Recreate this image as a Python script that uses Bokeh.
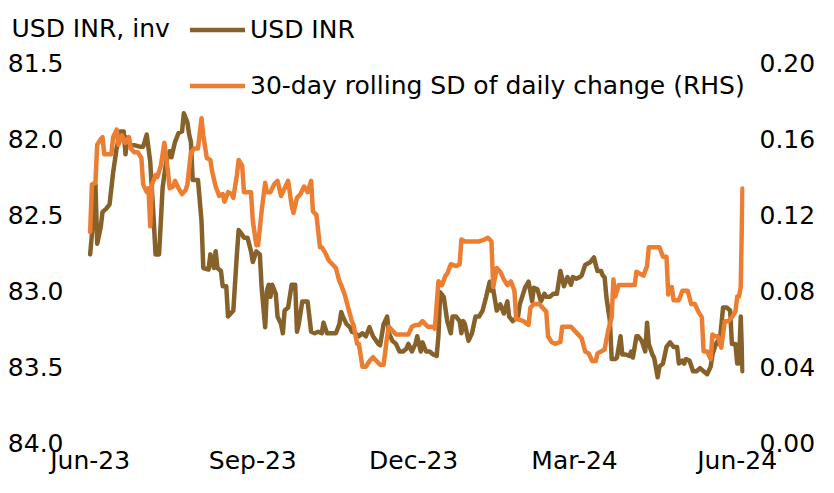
import pandas as pd
from bokeh.plotting import figure
from bokeh.models import (Range1d, LinearAxis, FixedTicker, DatetimeTickFormatter,
                          NumeralTickFormatter, Legend, LegendItem, Label, ColumnDataSource)
from bokeh.embed import file_html
from bokeh.resources import INLINE

# ---------------- data ----------------
usd_dates = [
    "2023-06-01", "2023-06-02", "2023-06-04", "2023-06-05", "2023-06-07", "2023-06-08", "2023-06-10",
    "2023-06-12", "2023-06-14", "2023-06-16", "2023-06-18", "2023-06-20", "2023-06-21", "2023-06-22",
    "2023-06-24", "2023-06-26", "2023-06-29", "2023-07-01", "2023-07-03", "2023-07-05", "2023-07-07",
    "2023-07-08", "2023-07-10", "2023-07-11", "2023-07-12", "2023-07-14", "2023-07-16", "2023-07-17",
    "2023-07-19", "2023-07-21", "2023-07-23", "2023-07-24", "2023-07-26", "2023-07-27", "2023-07-28",
    "2023-07-29", "2023-08-01", "2023-08-03", "2023-08-04", "2023-08-07", "2023-08-08", "2023-08-10",
    "2023-08-11", "2023-08-12", "2023-08-14", "2023-08-15", "2023-08-17", "2023-08-18", "2023-08-21",
    "2023-08-23", "2023-08-24", "2023-08-26", "2023-08-27", "2023-08-29", "2023-08-31", "2023-09-01",
    "2023-09-03", "2023-09-05", "2023-09-06", "2023-09-08", "2023-09-09", "2023-09-10", "2023-09-11",
    "2023-09-12", "2023-09-14", "2023-09-15", "2023-09-17", "2023-09-18", "2023-09-19", "2023-09-21",
    "2023-09-23", "2023-09-25", "2023-09-26", "2023-09-27", "2023-09-29", "2023-10-02", "2023-10-04",
    "2023-10-06", "2023-10-08", "2023-10-10", "2023-10-11", "2023-10-13", "2023-10-15", "2023-10-18",
    "2023-10-20", "2023-10-21", "2023-10-22", "2023-10-24", "2023-10-26", "2023-10-27", "2023-10-29",
    "2023-10-31", "2023-11-02", "2023-11-04", "2023-11-06", "2023-11-08", "2023-11-11", "2023-11-12",
    "2023-11-14", "2023-11-16", "2023-11-17", "2023-11-19", "2023-11-21", "2023-11-23", "2023-11-25",
    "2023-11-27", "2023-11-28", "2023-11-30", "2023-12-02", "2023-12-03", "2023-12-05", "2023-12-06",
    "2023-12-08", "2023-12-10", "2023-12-12", "2023-12-14", "2023-12-15", "2023-12-16", "2023-12-18",
    "2023-12-20", "2023-12-22", "2023-12-23", "2023-12-25", "2023-12-27", "2023-12-28", "2023-12-29",
    "2023-12-30", "2024-01-01", "2024-01-03", "2024-01-05", "2024-01-07", "2024-01-09", "2024-01-11",
    "2024-01-13", "2024-01-14", "2024-01-15", "2024-01-17", "2024-01-19", "2024-01-21", "2024-01-23",
    "2024-01-24", "2024-01-26", "2024-01-29", "2024-01-30", "2024-02-02", "2024-02-04", "2024-02-06",
    "2024-02-07", "2024-02-09", "2024-02-11", "2024-02-13", "2024-02-14", "2024-02-16", "2024-02-18",
    "2024-02-20", "2024-02-22", "2024-02-24", "2024-02-26", "2024-02-28", "2024-02-29", "2024-03-02",
    "2024-03-04", "2024-03-05", "2024-03-07", "2024-03-10", "2024-03-12", "2024-03-13", "2024-03-14",
    "2024-03-16", "2024-03-17", "2024-03-18", "2024-03-19", "2024-03-21", "2024-03-22", "2024-03-24",
    "2024-03-25", "2024-03-27", "2024-03-28", "2024-03-30", "2024-04-01", "2024-04-02", "2024-04-03",
    "2024-04-05", "2024-04-06", "2024-04-08", "2024-04-10", "2024-04-11", "2024-04-12", "2024-04-14",
    "2024-04-15", "2024-04-17", "2024-04-18", "2024-04-20", "2024-04-22", "2024-04-24", "2024-04-26",
    "2024-04-28", "2024-04-29", "2024-05-01", "2024-05-02", "2024-05-03", "2024-05-05", "2024-05-07",
    "2024-05-09", "2024-05-11", "2024-05-13", "2024-05-15", "2024-05-17", "2024-05-18", "2024-05-20",
    "2024-05-21", "2024-05-22", "2024-05-24", "2024-05-26", "2024-05-28", "2024-05-29", "2024-05-31",
    "2024-06-01", "2024-06-02", "2024-06-03", "2024-06-04",
]
usd_inr = [
    82.76, 82.63, 82.30, 82.69, 82.58, 82.48, 82.46,
    82.43, 82.22, 82.06, 81.95, 81.95, 82.10, 81.99,
    82.04, 82.04, 82.05, 82.05, 81.97, 82.15, 82.54,
    82.76, 82.76, 82.54, 82.32, 82.15, 82.08, 82.12,
    82.02, 81.96, 81.95, 81.83, 81.89, 81.97, 82.02,
    82.27, 82.27, 82.54, 82.85, 82.86, 82.76, 82.85,
    82.74, 82.85, 82.87, 82.97, 82.97, 83.17, 83.13,
    82.76, 82.60, 82.63, 82.65, 82.65, 82.74, 82.81,
    82.74, 82.76, 82.98, 83.24, 83.00, 82.96, 83.04,
    82.96, 83.02, 83.17, 83.22, 83.28, 83.13, 83.11,
    82.96, 82.96, 83.27, 83.22, 83.07, 83.07, 83.27,
    83.28, 83.27, 83.28, 83.21, 83.28, 83.28, 83.28,
    83.22, 83.14, 83.17, 83.22, 83.24, 83.27, 83.28,
    83.30, 83.28, 83.30, 83.24, 83.30, 83.35, 83.36,
    83.22, 83.17, 83.28, 83.33, 83.35, 83.40, 83.40,
    83.38, 83.35, 83.40, 83.35, 83.30, 83.40, 83.34,
    83.40, 83.40, 83.42, 83.43, 83.30, 83.01, 83.04,
    83.20, 83.28, 83.17, 83.17, 83.20, 83.28, 83.20,
    83.22, 83.33, 83.28, 83.17, 83.17, 83.13, 83.04,
    82.94, 83.00, 82.99, 83.13, 83.09, 83.15, 83.07,
    83.17, 83.20, 83.17, 83.09, 82.98, 82.94, 83.07,
    82.98, 82.99, 83.07, 83.02, 83.04, 83.04, 83.02,
    83.02, 82.87, 82.97, 82.91, 82.96, 82.91, 82.92,
    82.91, 82.90, 82.83, 82.81, 82.78, 82.83, 82.87,
    82.87, 82.90, 82.91, 83.04, 83.20, 83.45, 83.45,
    83.44, 83.30, 83.42, 83.42, 83.43, 83.40, 83.44,
    83.30, 83.30, 83.33, 83.40, 83.21, 83.35, 83.42,
    83.44, 83.57, 83.50, 83.48, 83.37, 83.34, 83.37,
    83.37, 83.48, 83.46, 83.48, 83.45, 83.46, 83.53,
    83.53, 83.51, 83.53, 83.55, 83.50, 83.42, 83.35,
    83.33, 83.35, 83.11, 83.11, 83.13, 83.35, 83.35,
    83.48, 83.48, 83.17, 83.53,
]

sd_dates = [
    "2023-06-01", "2023-06-02", "2023-06-04", "2023-06-05", "2023-06-07", "2023-06-08", "2023-06-09",
    "2023-06-11", "2023-06-13", "2023-06-14", "2023-06-16", "2023-06-17", "2023-06-19", "2023-06-21",
    "2023-06-23", "2023-06-24", "2023-06-26", "2023-06-28", "2023-06-30", "2023-07-01", "2023-07-03",
    "2023-07-04", "2023-07-05", "2023-07-06", "2023-07-08", "2023-07-09", "2023-07-11", "2023-07-13",
    "2023-07-15", "2023-07-16", "2023-07-18", "2023-07-19", "2023-07-21", "2023-07-23", "2023-07-25",
    "2023-07-26", "2023-07-28", "2023-07-30", "2023-08-01", "2023-08-03", "2023-08-04", "2023-08-06",
    "2023-08-08", "2023-08-09", "2023-08-11", "2023-08-13", "2023-08-15", "2023-08-16", "2023-08-18",
    "2023-08-20", "2023-08-21", "2023-08-23", "2023-08-24", "2023-08-26", "2023-08-27", "2023-08-29",
    "2023-08-31", "2023-09-01", "2023-09-03", "2023-09-04", "2023-09-06", "2023-09-08", "2023-09-09",
    "2023-09-11", "2023-09-13", "2023-09-15", "2023-09-17", "2023-09-19", "2023-09-21", "2023-09-23",
    "2023-09-24", "2023-09-26", "2023-09-28", "2023-09-30", "2023-10-02", "2023-10-04", "2023-10-05",
    "2023-10-07", "2023-10-09", "2023-10-10", "2023-10-12", "2023-10-14", "2023-10-16", "2023-10-18",
    "2023-10-20", "2023-10-21", "2023-10-23", "2023-10-25", "2023-10-27", "2023-10-28", "2023-10-30",
    "2023-10-31", "2023-11-02", "2023-11-04", "2023-11-06", "2023-11-08", "2023-11-10", "2023-11-12",
    "2023-11-14", "2023-11-16", "2023-11-17", "2023-11-19", "2023-11-21", "2023-11-25", "2023-11-28",
    "2023-11-30", "2023-12-02", "2023-12-04", "2023-12-06", "2023-12-09", "2023-12-12", "2023-12-13",
    "2023-12-15", "2023-12-17", "2023-12-19", "2023-12-20", "2023-12-22", "2023-12-25", "2023-12-27",
    "2023-12-28", "2023-12-30", "2024-01-01", "2024-01-04", "2024-01-07", "2024-01-10", "2024-01-12",
    "2024-01-14", "2024-01-15", "2024-01-17", "2024-01-19", "2024-01-21", "2024-01-23", "2024-01-25",
    "2024-01-27", "2024-01-28", "2024-01-29", "2024-02-01", "2024-02-04", "2024-02-05", "2024-02-07",
    "2024-02-10", "2024-02-12", "2024-02-14", "2024-02-15", "2024-02-17", "2024-02-19", "2024-02-22",
    "2024-02-23", "2024-02-26", "2024-02-28", "2024-03-01", "2024-03-03", "2024-03-05", "2024-03-07",
    "2024-03-09", "2024-03-11", "2024-03-13", "2024-03-14", "2024-03-16", "2024-03-18", "2024-03-20",
    "2024-03-22", "2024-03-23", "2024-03-24", "2024-03-26", "2024-03-28", "2024-03-31", "2024-04-02",
    "2024-04-04", "2024-04-05", "2024-04-07", "2024-04-09", "2024-04-11", "2024-04-12", "2024-04-14",
    "2024-04-16", "2024-04-18", "2024-04-20", "2024-04-22", "2024-04-23", "2024-04-25", "2024-04-26",
    "2024-04-29", "2024-05-01", "2024-05-02", "2024-05-04", "2024-05-06", "2024-05-08", "2024-05-10",
    "2024-05-12", "2024-05-13", "2024-05-15", "2024-05-17", "2024-05-18", "2024-05-19", "2024-05-21",
    "2024-05-23", "2024-05-25", "2024-05-27", "2024-05-29", "2024-05-31", "2024-06-01", "2024-06-02",
    "2024-06-03", "2024-06-04",
]
sd_change = [
    0.111, 0.136, 0.137, 0.157, 0.160, 0.161, 0.152,
    0.152, 0.152, 0.161, 0.165, 0.157, 0.162, 0.158,
    0.161, 0.155, 0.153, 0.153, 0.150, 0.136, 0.132,
    0.134, 0.114, 0.136, 0.141, 0.140, 0.146, 0.158,
    0.143, 0.134, 0.135, 0.138, 0.134, 0.131, 0.133,
    0.136, 0.153, 0.155, 0.155, 0.171, 0.162, 0.150,
    0.149, 0.143, 0.135, 0.130, 0.131, 0.127, 0.132,
    0.131, 0.129, 0.141, 0.149, 0.146, 0.132, 0.132,
    0.132, 0.117, 0.104, 0.104, 0.122, 0.137, 0.132,
    0.132, 0.136, 0.138, 0.130, 0.134, 0.138, 0.125,
    0.121, 0.129, 0.131, 0.135, 0.132, 0.138, 0.122,
    0.120, 0.103, 0.103, 0.100, 0.096, 0.094, 0.092,
    0.085, 0.083, 0.078, 0.071, 0.064, 0.062, 0.052,
    0.052, 0.040, 0.040, 0.043, 0.045, 0.043, 0.041,
    0.041, 0.056, 0.061, 0.059, 0.057, 0.057, 0.057,
    0.061, 0.062, 0.062, 0.064, 0.061, 0.061, 0.060,
    0.085, 0.083, 0.088, 0.089, 0.094, 0.093, 0.094,
    0.107, 0.106, 0.106, 0.106, 0.106, 0.107, 0.108,
    0.106, 0.082, 0.092, 0.090, 0.086, 0.083, 0.085,
    0.080, 0.065, 0.065, 0.064, 0.062, 0.071, 0.073,
    0.073, 0.071, 0.069, 0.056, 0.053, 0.052, 0.053,
    0.061, 0.061, 0.061, 0.059, 0.057, 0.055, 0.048,
    0.047, 0.043, 0.043, 0.047, 0.048, 0.049, 0.059,
    0.066, 0.086, 0.077, 0.083, 0.083, 0.083, 0.083,
    0.083, 0.090, 0.089, 0.088, 0.093, 0.103, 0.103,
    0.103, 0.103, 0.098, 0.098, 0.078, 0.082, 0.075,
    0.075, 0.080, 0.080, 0.080, 0.073, 0.073, 0.069,
    0.066, 0.048, 0.048, 0.044, 0.057, 0.056, 0.056,
    0.050, 0.064, 0.064, 0.066, 0.069, 0.077, 0.077,
    0.082, 0.134,
]

x_tick_dates = ["2023-06-01", "2023-09-01", "2023-12-01", "2024-03-01", "2024-06-01"]
left_ticks = [81.5, 82.0, 82.5, 83.0, 83.5, 84.0]
right_ticks = [0.00, 0.04, 0.08, 0.12, 0.16, 0.20]

series_names = ["USD INR", "30-day rolling SD of daily change (RHS)"]
axis_title = "USD INR, inv"

# ---------------- layout / styling ----------------
BROWN = "#86622A"
ORANGE = "#ED7D31"
FONT = "DejaVu Sans"
FS = "25px"
LW = 4.5

W, H = 818, 477
FRAME_R = 747          # frame right edge (px from figure left)
FRAME_B = 444          # frame bottom edge (px from figure top)
DATA_L = 90            # x pixel of first date
DATA_R = 745           # x pixel of last date
DATA_T = 63            # y pixel of the top tick (81.5 / 0.20)

src_usd = ColumnDataSource(dict(x=pd.to_datetime(usd_dates), y=usd_inr))
src_sd = ColumnDataSource(dict(x=pd.to_datetime(sd_dates), y=sd_change))

x0 = pd.Timestamp(usd_dates[0])
x1 = pd.Timestamp(usd_dates[-1])
per_px = (x1 - x0) / (DATA_R - DATA_L)
x_start = x0 - per_px * DATA_L
x_end = x1 + per_px * (FRAME_R - DATA_R)

l_lo, l_hi = left_ticks[-1], left_ticks[0]          # 84.0 bottom, 81.5 top
l_top = l_hi - (l_lo - l_hi) * DATA_T / (FRAME_B - DATA_T)
r_lo, r_hi = right_ticks[0], right_ticks[-1]
r_top = r_hi + (r_hi - r_lo) * DATA_T / (FRAME_B - DATA_T)

p = figure(width=W, height=H, x_axis_type="datetime", output_backend="svg",
           toolbar_location=None, x_range=Range1d(x_start, x_end),
           y_range=Range1d(l_lo, l_top),
           min_border_left=0, min_border_top=0,
           min_border_right=W - FRAME_R, min_border_bottom=H - FRAME_B)
p.outline_line_color = None
p.grid.visible = False
p.background_fill_color = "white"
p.border_fill_color = "white"

p.extra_y_ranges = {"sd": Range1d(r_lo, r_top)}

r_usd = p.line("x", "y", source=src_usd, line_color=BROWN, line_width=LW,
               line_join="round", line_cap="round")
r_sd = p.line("x", "y", source=src_sd, line_color=ORANGE, line_width=LW,
              line_join="round", line_cap="round", y_range_name="sd")

def style_axis(ax, standoff):
    ax.axis_line_color = None
    ax.major_tick_line_color = None
    ax.minor_tick_line_color = None
    ax.major_tick_out = 0
    ax.major_tick_in = 0
    ax.minor_tick_out = 0
    ax.minor_tick_in = 0
    ax.major_label_text_font = FONT
    ax.major_label_text_font_size = FS
    ax.major_label_text_color = "black"
    ax.major_label_standoff = standoff

# bottom axis
xa = p.xaxis[0]
xa.ticker = FixedTicker(ticks=[pd.Timestamp(d).value / 1e6 for d in x_tick_dates])
xa.formatter = DatetimeTickFormatter(days="%b-%y", months="%b-%y", years="%b-%y")
style_axis(xa, 3)

# left axis (inverted); labels drawn to the right of the figure's left edge
ya = p.yaxis[0]
ya.ticker = FixedTicker(ticks=left_ticks)
ya.formatter = NumeralTickFormatter(format="0.0")
style_axis(ya, -63)

# right axis
ra = LinearAxis(y_range_name="sd", ticker=FixedTicker(ticks=right_ticks),
                formatter=NumeralTickFormatter(format="0.00"))
style_axis(ra, 15)
p.add_layout(ra, "right")

# legend (location measured from the frame's bottom-left corner)
legend = Legend(items=[LegendItem(label=series_names[0], renderers=[r_usd]),
                       LegendItem(label=series_names[1], renderers=[r_sd])],
                location=(190, FRAME_B - 102), orientation="vertical",
                glyph_width=55, glyph_height=29, label_standoff=5,
                spacing=27, padding=0, margin=0,
                label_text_font=FONT, label_text_font_size=FS,
                label_text_color="black",
                background_fill_alpha=0, border_line_color=None)
p.add_layout(legend, "center")

# axis title (top-left)
title = Label(x=11, y=FRAME_B - 30, x_units="screen", y_units="screen",
              text=axis_title, text_font=FONT, text_font_size=FS,
              text_baseline="alphabetic", text_align="left", text_color="black")
p.add_layout(title)

open("out.html", "w").write(file_html(p, INLINE))
